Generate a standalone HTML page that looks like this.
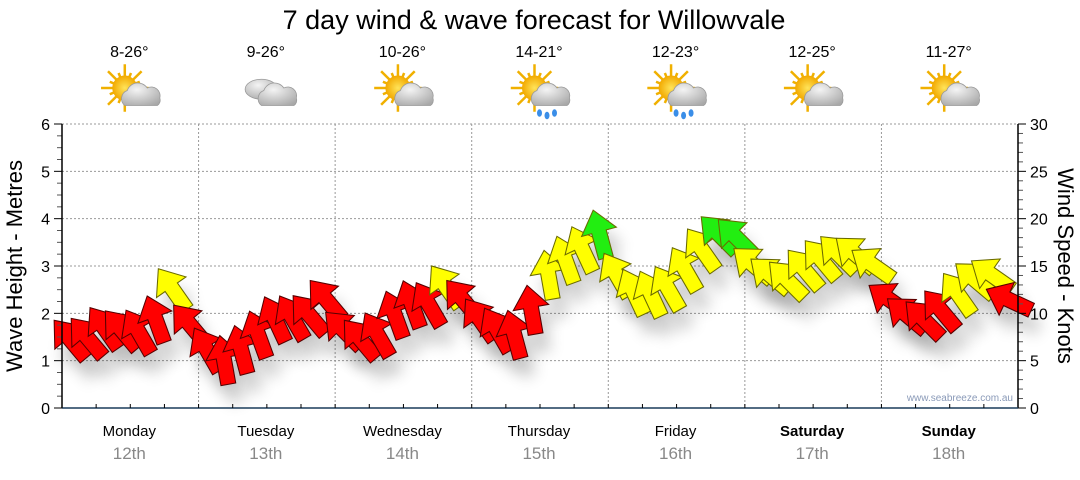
<!DOCTYPE html>
<html><head><meta charset="utf-8"><style>
body{margin:0;background:#fff;width:1080px;height:475px;overflow:hidden;font-family:"Liberation Sans","DejaVu Sans",sans-serif}
</style></head><body>
<svg id="chart" width="1080" height="475" viewBox="0 0 1080 475" xmlns="http://www.w3.org/2000/svg">
<defs>
<radialGradient id="cg" cx="0.4" cy="0.3" r="0.8"><stop offset="0" stop-color="#f4f4f4"/><stop offset="1" stop-color="#a8a8a8"/></radialGradient>
<radialGradient id="sg" cx="0.5" cy="0.5" r="0.5"><stop offset="0" stop-color="#ffe45a"/><stop offset="1" stop-color="#f2a900"/></radialGradient>
<filter id="sh" x="-50%" y="-50%" width="200%" height="200%"><feGaussianBlur stdDeviation="5"/></filter>
</defs>
<text x="534" y="29" text-anchor="middle" font-size="27" fill="#000">7 day wind &amp; wave forecast for Willowvale</text>
<g id="grid"></g>
<g id="icons"></g>
<g id="arrows"></g>
<g id="axes"></g>
<text transform="translate(22,266) rotate(-90)" text-anchor="middle" font-size="22" fill="#000">Wave Height - Metres</text>
<text transform="translate(1058,266) rotate(90)" text-anchor="middle" font-size="22" fill="#000">Wind Speed - Knots</text>
<text x="1013" y="401" text-anchor="end" font-size="10" fill="#8a9ab8">www.seabreeze.com.au</text>
</svg>
<script>
const days=["Monday","Tuesday","Wednesday","Thursday","Friday","Saturday","Sunday"];
const dates=["12th","13th","14th","15th","16th","17th","18th"];
const temps=["8-26°","9-26°","10-26°","14-21°","12-23°","12-25°","11-27°"];
const icons=["partly","cloudy","partly","rain","rain","partly","partly"];
const waveTicks=[0,1,2,3,4,5,6];
const windTicks=[0,5,10,15,20,25,30];
const windSpeed=[7.2,7.4,8.4,8.2,8,9.3,12.5,8.8,
 6.1,5,6.1,7.7,9.3,9.5,9.8,11.4,
 8.2,7.2,7.7,9.8,10.9,10.9,12.8,11.4,
 9.3,8.2,7.7,10.3,14,15.6,16.7,18.3,
 14,12.2,12,12.6,14.6,16.7,18.3,18,
 15.1,14,13.5,14.6,15.6,16.2,16.2,15.1,
 11.4,9.8,9.3,10.3,12,13.5,14,11.4];
const windDir=[-40,-40,-35,-40,-30,-20,-35,-40,
 -30,-10,-15,-20,-25,-30,-40,-40,
 -45,-40,-30,-20,-20,-30,-35,-40,
 -35,-30,-15,-10,-10,-20,-25,-15,
 -30,-25,-25,-30,-30,-35,-45,-45,
 -50,-50,-45,-40,-40,-45,-50,-55,
 -55,-50,-45,-40,-35,-50,-55,-65];
const X0=62,X1=1018,Y0=408,Y1=124;
const dayW=(X1-X0)/7;
const yW=v=>Y0-(v/6)*(Y0-Y1);
const yK=v=>Y0-(v/30)*(Y0-Y1);
const xT=i=>X0+(i+0.5)*dayW/8;
const NS="http://www.w3.org/2000/svg";
function mk(t,a,p){const e=document.createElementNS(NS,t);for(const k in a)e.setAttribute(k,a[k]);(p||document.getElementById('chart')).appendChild(e);return e;}
const grid=document.getElementById('grid'),axes=document.getElementById('axes'),ic=document.getElementById('icons'),ar=document.getElementById('arrows');
waveTicks.forEach(v=>{if(v>0){const l=mk('line',{x1:X0,x2:X1,y1:yW(v),y2:yW(v),stroke:'#999','stroke-dasharray':'2,2'},grid);}
 const t=mk('text',{x:X0-12,y:yW(v)+6,'text-anchor':'end','font-size':16,fill:'#000'},axes);t.textContent=v;
 
 mk('line',{x1:X0-8,x2:X0,y1:yW(v),y2:yW(v),stroke:'#000'},axes);
 if(v<6)for(let m=1;m<4;m++)mk('line',{x1:X0-5,x2:X0,y1:yW(v+m/4),y2:yW(v+m/4),stroke:'#555'},axes);
});
windTicks.forEach(v=>{const t=mk('text',{x:X1+12,y:yK(v)+6,'font-size':16,fill:'#000'},axes);t.textContent=v;
 
 mk('line',{x1:X1,x2:X1+8,y1:yK(v),y2:yK(v),stroke:'#000'},axes);
 if(v<30)for(let m=1;m<5;m++)mk('line',{x1:X1,x2:X1+5,y1:yK(v+m),y2:yK(v+m),stroke:'#555'},axes);
});
mk('line',{x1:X0,x2:X0,y1:Y1,y2:Y0,stroke:'#000','stroke-width':1.5},axes);
mk('line',{x1:X1,x2:X1,y1:Y1,y2:Y0,stroke:'#000','stroke-width':1.5},axes);
mk('line',{x1:X0,x2:X1,y1:Y0,y2:Y0,stroke:'#1a3c5a','stroke-width':1.5},axes);
for(let i=0;i<28;i++){const x=X0+i*dayW/4;mk('line',{x1:x,x2:x,y1:Y0,y2:Y0-4,stroke:'#000'},axes);}
function drawIcon(type,cx,cy,g){
 if(type!=='cloudy'){const s=mk('g',{},g);for(let r=0;r<16;r++){const a=r*Math.PI/8;const L=r%2?13:19;
   mk('line',{x1:cx-6+Math.cos(a)*9,y1:cy-4+Math.sin(a)*9,x2:cx-6+Math.cos(a)*L,y2:cy-4+Math.sin(a)*L,stroke:'#f0b000','stroke-width':2},s);}
   mk('circle',{cx:cx-6,cy:cy-4,r:10,fill:'url(#sg)'},s);}
 if(type==='cloudy'){mk('ellipse',{cx:cx-6,cy:cy-3,rx:13,ry:8,fill:'url(#cg)',stroke:'#999','stroke-width':.6},g);}
 mk('path',{d:`M${cx-6} ${cy+10} a7 7 0 0 1 2 -12 a9 9 0 0 1 16 -2 a7 7 0 0 1 10 8 a5 5 0 0 1 -2 6 z`,fill:'url(#cg)',stroke:'#999','stroke-width':.6},g);
 if(type==='rain'){[[-2,16],[4,18],[10,16]].forEach(p=>mk('ellipse',{cx:cx+p[0],cy:cy+p[1],rx:2,ry:3,fill:'#3a8ee8'},g));}
}
days.forEach((d,i)=>{const cx=X0+(i+0.5)*dayW;
 if(i>0){const l=mk('line',{x1:X0+i*dayW,x2:X0+i*dayW,y1:Y1,y2:Y0,stroke:'#999','stroke-dasharray':'2,2'},grid);}
 const t=mk('text',{x:cx-1,y:436,'text-anchor':'middle','font-size':15,fill:'#000','font-weight':i>=5?'bold':'normal'});t.textContent=d;
 
 const t2=mk('text',{x:cx-1,y:459,'text-anchor':'middle','font-size':17,fill:'#888'});t2.textContent=dates[i];
 
 const t3=mk('text',{x:cx-1,y:57,'text-anchor':'middle','font-size':16,fill:'#000'});t3.textContent=temps[i];
 
 const g=mk('g',{transform:`translate(${cx+2},93) scale(1.25) translate(${-(cx+2)},-93)`},ic);
 drawIcon(icons[i],cx+2,93,g);
});
const arrowPath="M0,-17 L12,-2 L5,-2 L5,16 L-5,16 L-5,-2 L-12,-2 Z";
windSpeed.forEach((v,i)=>{const x=xT(i),y=yK(v);
 mk('path',{d:arrowPath,fill:'#000',opacity:.2,filter:'url(#sh)',transform:`translate(${x+8},${y+18}) rotate(${windDir[i]}) scale(1.5)`},ar);});
windSpeed.forEach((v,i)=>{const x=xT(i),y=yK(v);
 const col=v>=18?'#22ee11':v>=12?'#ffff00':'#ff0000';
 const p=mk('path',{d:arrowPath,fill:col,stroke:v>=12?'#6a6a00':'#500',"stroke-width":0.7,transform:`translate(${x},${y}) rotate(${windDir[i]}) scale(1.5)`},ar);
 });
</script>
</body></html>
